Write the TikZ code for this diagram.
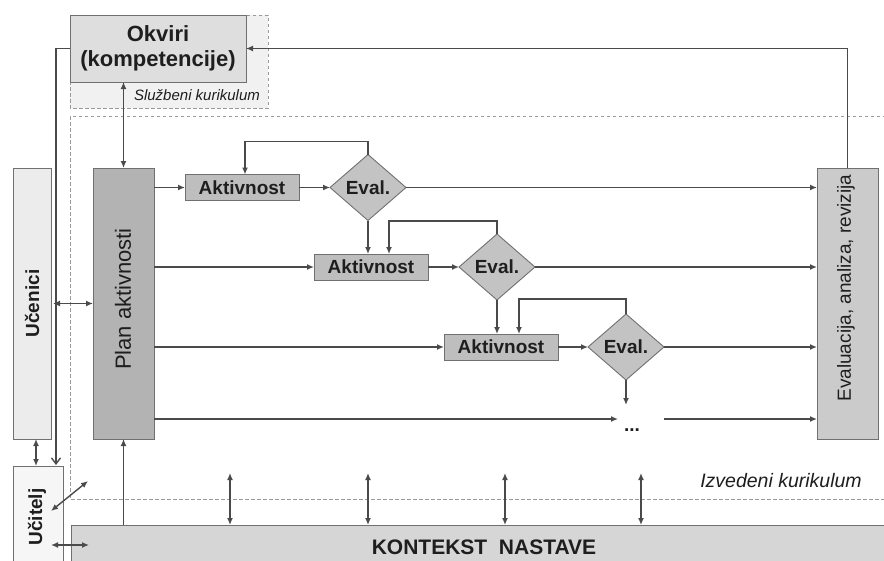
\documentclass[tikz,border=0pt]{standalone}
\usepackage{fontspec}
\setmainfont{Liberation Sans}
\usetikzlibrary{shapes.geometric,arrows.meta}

\definecolor{linegray}{HTML}{4A4A4A}
\definecolor{boxline}{HTML}{707070}
\definecolor{dashgray}{HTML}{9A9A9A}
\definecolor{txtgray}{HTML}{1E1E1E}
\definecolor{okvfill}{HTML}{DEDEDE}
\definecolor{slufill}{HTML}{F1F1F1}
\definecolor{ucenfill}{HTML}{ECECEC}
\definecolor{ucitfill}{HTML}{F6F6F6}
\definecolor{planfill}{HTML}{B3B3B3}
\definecolor{aktfill}{HTML}{BEBEBE}
\definecolor{evalfill}{HTML}{C3C3C3}
\definecolor{evafill}{HTML}{CBCBCB}
\definecolor{kontfill}{HTML}{D6D6D6}

\begin{document}
\begin{tikzpicture}[x=1pt, y=-1pt, text=txtgray,
  box/.style = {draw=boxline, line width=0.9pt, inner sep=0pt, outer sep=0pt},
  bigbox/.style = {box, minimum width=61pt, minimum height=271pt},
  akt/.style = {box, fill=aktfill, minimum width=114pt, minimum height=26pt, font=\bfseries\fontsize{19}{19}\selectfont},
  eval/.style = {box, diamond, fill=evalfill, minimum width=76pt, minimum height=66pt, font=\bfseries\fontsize{19}{19}\selectfont},
  vtext/.style = {rotate=90, inner sep=0pt, font=\fontsize{#1}{#1}\selectfont},
  vtext/.default = 20,
  region/.style = {draw=dashgray, line width=1pt, dash pattern=on 3.5pt off 2.5pt},
  arr/.style = {draw=linegray, line width=1.4pt, -{Latex[length=7pt,width=6pt]}},
  dbl/.style = {draw=linegray, line width=1.4pt, {Latex[length=7pt,width=6pt]}-{Latex[length=7pt,width=6pt]}},
  open/.style = {draw=linegray, line width=1.4pt, -{Straight Barb[length=6pt,width=9pt]}}]

\useasboundingbox (0,0) rectangle (884,560);

% Regions
\draw[region, fill=slufill] (70,15) rectangle (268,108);
\draw[region] (892,116) -- (70,116) -- (70,499) -- (892,499);
\node[font=\itshape\fontsize{15}{15}\selectfont] (sluz) at (197,95) {Službeni kurikulum};
\node[font=\itshape\fontsize{19.5}{19.5}\selectfont] (izv) at (781,481) {Izvedeni kurikulum};

% Boxes
\node[box, fill=okvfill, minimum width=176pt, minimum height=67pt, align=center,
      font=\bfseries\fontsize{22}{25}\selectfont] (okv) at (158,48.5) {Okviri\\(kompetencije)};
\node[bigbox, fill=ucenfill, minimum width=38pt] (ucen) at (32,303.5) {};
\node[vtext=19, font=\bfseries\fontsize{19}{19}\selectfont] (ucentxt) at (ucen) {Učenici};
\node[box, fill=ucitfill, minimum width=50pt, minimum height=104pt] (ucit) at (38,518) {};
\node[vtext=19, font=\bfseries\fontsize{19}{19}\selectfont] (ucittxt) at (37,517) {Učitelj};
\node[bigbox, fill=planfill] (plan) at (123.5,303.5) {};
\node[vtext=22] (plantxt) at (123,299) {Plan aktivnosti};
\node[bigbox, fill=evafill] (eva) at (847.5,303.5) {};
\node[vtext=19] (evatxt) at (846,288) {Evaluacija, analiza, revizija};
\node[box, fill=kontfill, minimum width=821pt, minimum height=45pt] (kont) at (481.5,547.5) {};
\node[font=\bfseries\fontsize{21}{21}\selectfont] (konttxt) at (484,547) {KONTEKST\ \ NASTAVE};

% Activities
\node[akt] (akt1) at (242,187.5) {Aktivnost};
\node[eval] (ev1) at (368,187.5) {Eval.};
\node[akt] (akt2) at (371,267) {Aktivnost};
\node[eval] (ev2) at (497,267) {Eval.};
\node[akt] (akt3) at (501,347) {Aktivnost};
\node[eval] (ev3) at (626,347) {Eval.};
\node[anchor=base, font=\bfseries\fontsize{19}{19}\selectfont] (dots) at (632,431) {...};

\coordinate (ev3end) at (626,405);
\coordinate (r4in) at (618,419);
\coordinate (r4out) at (664,419);
\coordinate (ucitin) at (56,465);
\coordinate (diagA) at (51,511);
\coordinate (diagB) at (88,481);
\coordinate (horA) at (51,545);
\coordinate (horB) at (89,545);

% Lines
\draw[arr] (plan.east |- akt1) -- (akt1);
\draw[arr] (akt1) -- (ev1);
\draw[arr] (ev1.east) -- (eva.west |- ev1);
\draw[arr] (ev1.north) -- ++(0,-13) -| ([xshift=3pt]akt1.north);
\draw[arr] (ev1.south) -- (ev1.south |- akt2.north);

\draw[arr] (plan.east |- akt2) -- (akt2);
\draw[arr] (akt2) -- (ev2);
\draw[arr] (ev2.east) -- (eva.west |- ev2);
\draw[arr] (ev2.north) -- ++(0,-13) -| ([xshift=18pt]akt2.north);
\draw[arr] (ev2.south) -- (ev2.south |- akt3.north);

\draw[arr] (plan.east |- akt3) -- (akt3);
\draw[arr] (akt3) -- (ev3);
\draw[arr] (ev3.east) -- (eva.west |- ev3);
\draw[arr] (ev3.north) -- ++(0,-15) -| ([xshift=18pt]akt3.north);
\draw[arr] (ev3.south) -- (ev3end);

\draw[arr] (plan.east |- r4in) -- (r4in);
\draw[arr] (r4out) -- (eva.west |- r4out);

\draw[arr] (eva.north) -- (eva.north |- okv.east) -- (okv.east);
\draw[dbl] (okv.south -| plan.north) -- (plan.north);
\draw[arr] (kont.north -| plan.south) -- (plan.south);
\draw[open] (okv.west) -| (ucitin);
\draw[dbl] ([xshift=4pt]ucen.south) -- ([xshift=-2pt]ucit.north);
\draw[dbl] ([xshift=2pt]ucen.east) -- (plan.west);
\draw[dbl] (diagA) -- (diagB);
\draw[dbl] (horA) -- (horB);

\foreach \x in {230,368,505,641} {
  \draw[dbl] (\x,473) -- (kont.north -| \x,0);
}

\end{tikzpicture}
\end{document}
